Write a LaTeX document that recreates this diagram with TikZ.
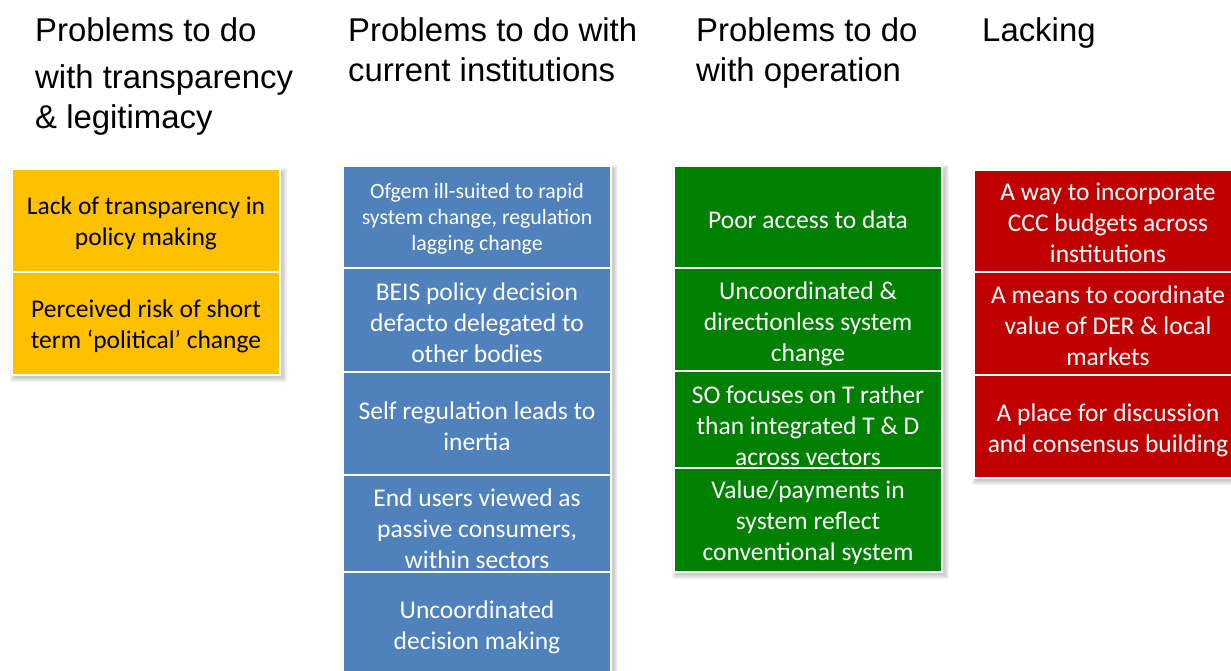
\documentclass[tikz,border=0pt]{standalone}
\usepackage{fontspec}
\setmainfont{Liberation Sans}
\newfontfamily\calib{Carlito}
\definecolor{cyel}{HTML}{FFC000}
\definecolor{cblue}{HTML}{4F81BD}
\definecolor{cgreen}{HTML}{008000}
\definecolor{cred}{HTML}{C00000}
\newcommand\mkshadow[4]{%
  \foreach \s in {0,1,2,3,4}{%
    \fill[black,opacity=0.045] (#1+2-\s,#2+3-\s) rectangle (#3+3+\s,#4+3+\s);}}
\begin{document}
\begin{tikzpicture}[x=1pt,y=-1pt,
  cell/.style={draw=white,line width=2pt,inner sep=0pt,outer sep=0pt,anchor=north west},
  head/.style={anchor=base west,inner sep=0pt,font=\fontsize{32.9}{40}\selectfont},
  txt/.style={align=center,inner sep=0pt,yshift=-1.5pt,font=\calib\fontsize{25.5}{31}\selectfont},
  txtw/.style={txt,text=white},
  txts/.style={txtw,font=\calib\fontsize{21.8}{26}\selectfont}]
\useasboundingbox (0,0) rectangle (1231,671);
% headings
\node[head] (h1a) at (35,42) {Problems to do};
\node[head] (h1b) at (35,89) {with transparency};
\node[head] (h1c) at (35,129) {\& legitimacy};
\node[head] (h2a) at (348,42) {Problems to do with};
\node[head] (h2b) at (348,82) {current institutions};
\node[head] (h3a) at (696,42) {Problems to do};
\node[head] (h3b) at (696,82) {with operation};
\node[head] (h4a) at (982,42) {Lacking};
% shadows
\mkshadow{12}{169}{280}{375}
\mkshadow{343}{166}{611}{680}
\mkshadow{674}{166}{942}{572}
\mkshadow{974}{170}{1240}{478}
% yellow column
\node[cell,fill=cyel,minimum width=268,minimum height=103] (y1) at (12,169) {};
\node[cell,fill=cyel,minimum width=268,minimum height=103] (y2) at (12,272) {};
\node[txt] (ty1) at (146,221.5) {Lack of transparency in\\policy making};
\node[txt] (ty2) at (146,324.5) {Perceived risk of short\\term ‘political’ change};
% blue column
\node[cell,fill=cblue,minimum width=268,minimum height=102] (b1) at (343,166) {};
\node[cell,fill=cblue,minimum width=268,minimum height=104] (b2) at (343,268) {};
\node[cell,fill=cblue,minimum width=268,minimum height=103] (b3) at (343,372) {};
\node[cell,fill=cblue,minimum width=268,minimum height=97] (b4) at (343,475) {};
\node[cell,fill=cblue,minimum width=268,minimum height=110] (b5) at (343,572) {};
\node[txts] (tb1) at (477,217) {Ofgem ill-suited to rapid\\system change, regulation\\lagging change};
\node[txtw] (tb2) at (477,321) {BEIS policy decision\\defacto delegated to\\other bodies};
\node[txtw] (tb3) at (477,424.5) {Self regulation leads to\\inertia};
\node[txtw] (tb4) at (477,527) {End users viewed as\\passive consumers,\\within sectors};
\node[txtw] (tb5) at (477,625.5) {Uncoordinated\\decision making};
% green column
\node[cell,fill=cgreen,minimum width=268,minimum height=102] (g1) at (674,166) {};
\node[cell,fill=cgreen,minimum width=268,minimum height=103] (g2) at (674,268) {};
\node[cell,fill=cgreen,minimum width=268,minimum height=97] (g3) at (674,371) {};
\node[cell,fill=cgreen,minimum width=268,minimum height=104] (g4) at (674,468) {};
\node[txtw] (tg1) at (808,218) {Poor access to data};
\node[txtw] (tg2) at (808,322) {Uncoordinated \&\\directionless system\\change};
\node[txtw] (tg3) at (808,424) {SO focuses on T rather\\than integrated T \& D\\across vectors};
\node[txtw] (tg4) at (808,521) {Value/payments in\\system reflect\\conventional system};
% red column
\node[cell,fill=cred,minimum width=266,minimum height=102] (r1) at (974,170) {};
\node[cell,fill=cred,minimum width=266,minimum height=103] (r2) at (974,272) {};
\node[cell,fill=cred,minimum width=266,minimum height=103] (r3) at (974,375) {};
\node[txtw] (tr1) at (1108,221) {A way to incorporate\\CCC budgets across\\institutions};
\node[txtw] (tr2) at (1108,324) {A means to coordinate\\value of DER \& local\\markets};
\node[txtw] (tr3) at (1108,428.5) {A place for discussion\\and consensus building};
\end{tikzpicture}
\end{document}
